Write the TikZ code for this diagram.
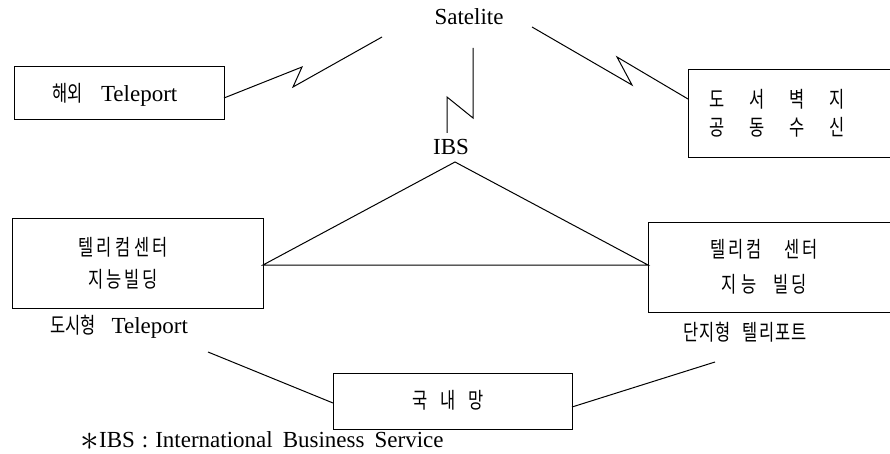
\documentclass[tikz,border=0pt]{standalone}
\usepackage{fontspec}
\setmainfont{Liberation Serif}
\newfontfamily\kr[FakeStretch=0.75]{Noto Sans CJK KR}
\begin{document}
\begin{tikzpicture}[x=1pt,y=-1pt,
  box/.style={draw, line width=1pt, inner sep=0pt, outer sep=0pt},
  lat/.style={inner sep=0pt, font={\fontsize{23}{26}\selectfont}},
  kor/.style={inner sep=0pt, align=center, font={\kr\fontsize{22}{#1}\selectfont}},
  kor/.default=28,
  wire/.style={line width=1pt, line join=miter}]
\useasboundingbox (0,0) rectangle (890,454);
\clip (0,0) rectangle (890,454);

% boxes
\node[box, minimum width=210, minimum height=53] (hw) at (119,93.5) {};
\node[box, minimum width=212, minimum height=88] (db) at (794,114) {};
\node[box, minimum width=251, minimum height=90] (tl) at (137.5,263) {};
\node[box, minimum width=252, minimum height=90] (tr) at (774,267) {};
\node[box, minimum width=239, minimum height=56] (kn) at (452.5,401) {};

% texts
\node[lat] (hwt) at (115,95) {{\kr\fontsize{22}{24}\selectfont 해외}\hspace{18pt}Teleport};
\node[lat] (sat) at (469,17) {Satelite};
\node[kor=28] (dbt) at (777,113) {도\hspace{25pt}서\hspace{25pt}벽\hspace{25pt}지\\공\hspace{25pt}동\hspace{25pt}수\hspace{25pt}신};
\node[lat] (ibs) at (451,147) {IBS};
\node[kor=32] (tlt) at (123,263) {텔\hspace{3.5pt}리\hspace{3.5pt}컴\hspace{3.5pt}센\hspace{3.5pt}터\\지\hspace{3pt}능\hspace{3pt}빌\hspace{3pt}딩};
\node[lat] (tll) at (119,327) {{\kr\fontsize{22}{24}\selectfont 도시형}\hspace{16pt}Teleport};
\node[kor=35] (trt) at (764,267) {텔\hspace{3pt}리\hspace{3pt}컴\hspace{22pt}센\hspace{3pt}터\\지\hspace{5pt}능\hspace{16pt}빌\hspace{3pt}딩};
\node[kor] (trl) at (745,332) {단\hspace{1pt}지\hspace{1pt}형\hspace{12pt}텔\hspace{1pt}리\hspace{1pt}포\hspace{1pt}트};
\node[kor] (knt) at (448,400) {국\hspace{13pt}내\hspace{13pt}망};
\node[lat] (fn) at (262,441) {\raisebox{-2.5pt}{\scalebox{1.5}{$\ast$}}IBS\hspace{7pt}:\hspace{7pt}International\hspace{10pt}Business\hspace{10pt}Service};

% connector points
\coordinate (a1) at (302,67);
\coordinate (a2) at (293,87);
\coordinate (a3) at (382,37);
\coordinate (b1) at (473,48);
\coordinate (b2) at (473,118);
\coordinate (b3) at (447,97);
\coordinate (b4) at (447,133);
\coordinate (c1) at (532,27);
\coordinate (c2) at (632,85);
\coordinate (c3) at (617,57);
\coordinate (apex) at (455,162);
\coordinate (L) at ([yshift=-2pt]tl.east);
\coordinate (R) at (L -| tr.west);
\coordinate (d1) at (208,352);
\coordinate (e1) at (715,362);

% connectors
\draw[wire] ([yshift=-4.5pt]hw.east) -- (a1) -- (a2) -- (a3);
\draw[wire] (b1) -- (b2) -- (b3) -- (b4);
\draw[wire] (c1) -- (c2) -- (c3) -- ([yshift=15pt]db.west);
\draw[wire] (L) -- (apex) -- (R) -- cycle;
\draw[wire] (d1) -- ([yshift=-2pt]kn.west);
\draw[wire] ([yshift=-6pt]kn.east) -- (e1);
\end{tikzpicture}
\end{document}
